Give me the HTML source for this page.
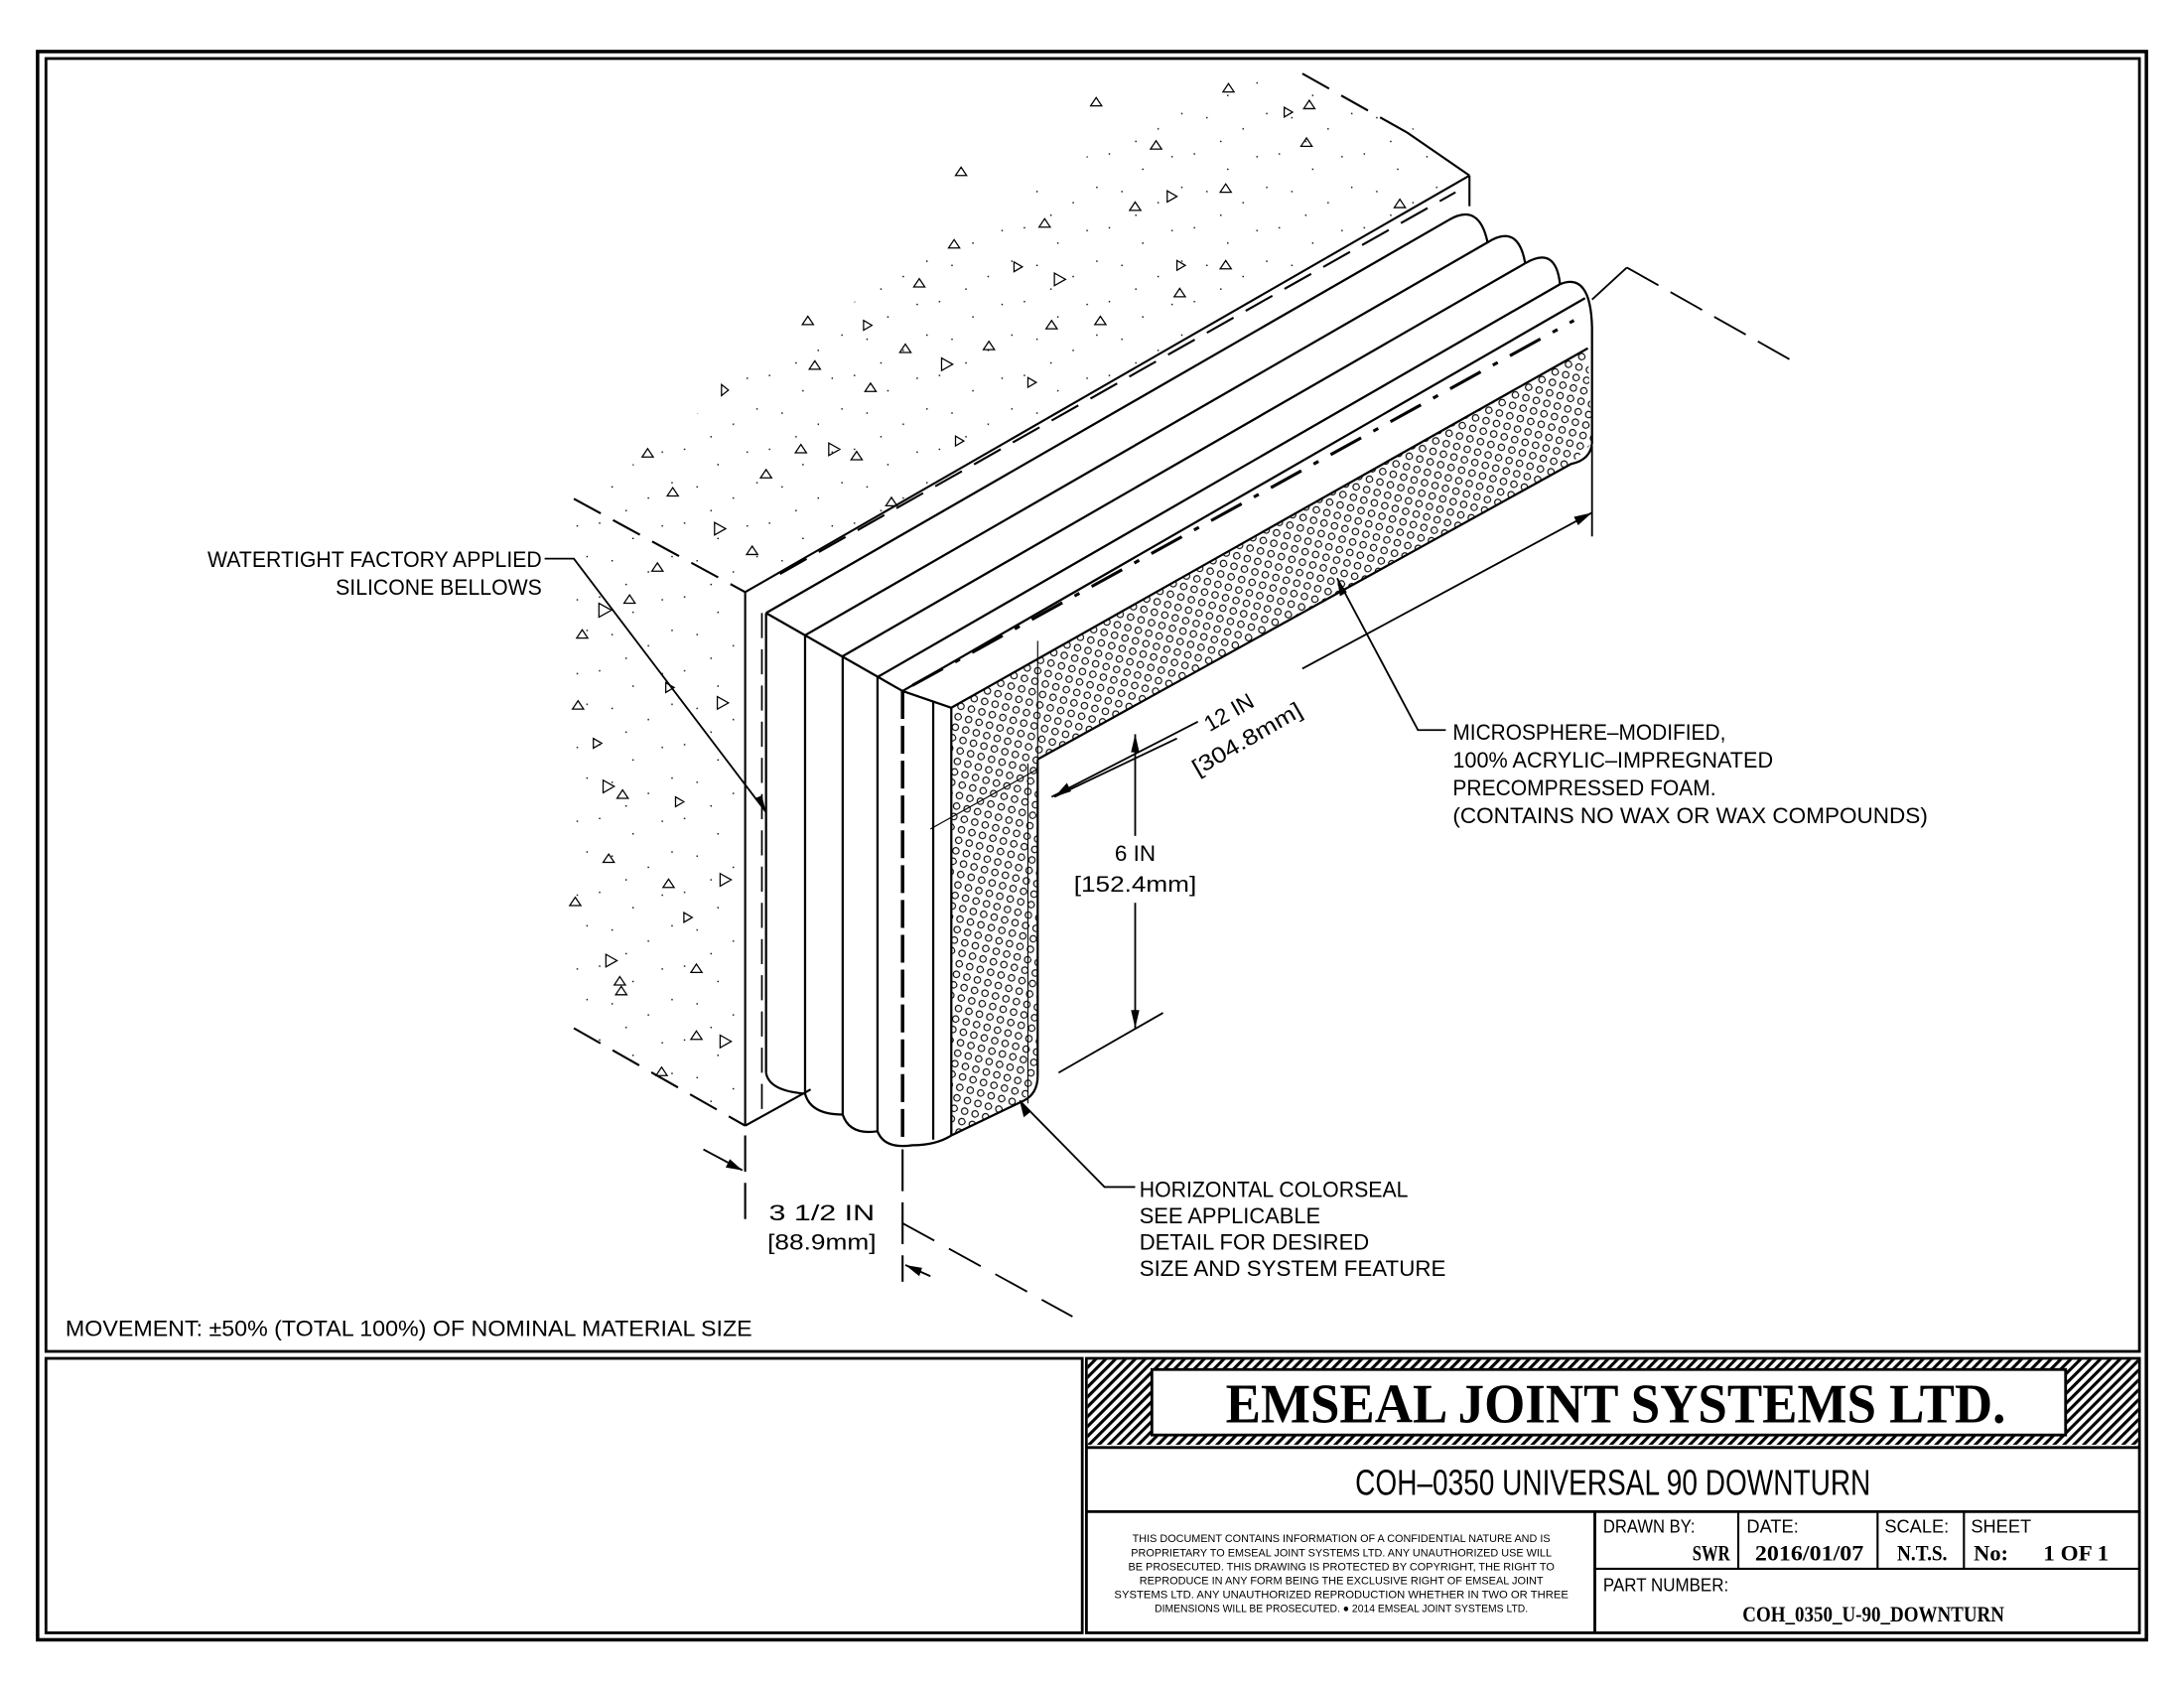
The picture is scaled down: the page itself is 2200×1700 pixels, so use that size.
<!DOCTYPE html>
<html><head><meta charset="utf-8"><style>
html,body{margin:0;padding:0;background:#fff}
svg{display:block}
.t{font-family:"Liberation Sans",sans-serif;font-size:16px;fill:#000}
</style></head><body>
<svg width="2200" height="1700" viewBox="0 0 1568 1211.6" preserveAspectRatio="none" xmlns="http://www.w3.org/2000/svg">
<defs>
<pattern id="foam" width="11" height="11" patternUnits="userSpaceOnUse" patternTransform="rotate(-30)">
<circle cx="3" cy="3" r="2.3" fill="none" stroke="#000" stroke-width="0.8"/>
<circle cx="8.5" cy="8.5" r="2.3" fill="none" stroke="#000" stroke-width="0.8"/>
</pattern>
<pattern id="hatch" width="5" height="5" patternUnits="userSpaceOnUse" patternTransform="rotate(45)">
<rect width="5" height="5" fill="#fff"/><rect width="2.2" height="5" fill="#000"/>
</pattern>
<pattern id="dots" width="61" height="53" patternUnits="userSpaceOnUse">
<rect x="3" y="4" width="1" height="1"/><rect x="27" y="15" width="1" height="1"/>
<rect x="48" y="6" width="1" height="1"/><rect x="12" y="31" width="1" height="1"/>
<rect x="38" y="39" width="1" height="1"/><rect x="55" y="28" width="1" height="1"/>
<rect x="22" y="48" width="1" height="1"/>
</pattern>
</defs>
<rect width="1568" height="1212" fill="#fff"/>
<!-- borders -->
<rect x="27" y="37" width="1514" height="1140" fill="none" stroke="#000" stroke-width="2.5"/>
<rect x="33" y="42" width="1503" height="928" fill="none" stroke="#000" stroke-width="2"/>
<rect x="33" y="975" width="744" height="197" fill="none" stroke="#000" stroke-width="2"/>
<rect x="780" y="975" width="756" height="197" fill="none" stroke="#000" stroke-width="2"/>
<!-- title hatched band -->
<rect x="781" y="976" width="754" height="61" fill="url(#hatch)"/>
<rect x="827" y="983" width="656" height="47" fill="#fff" stroke="#000" stroke-width="2"/>
<text x="880" y="1021" font-family="Liberation Serif,serif" font-weight="bold" font-size="40" textLength="560" lengthAdjust="spacingAndGlyphs">EMSEAL JOINT SYSTEMS LTD.</text>
<line x1="780" y1="1039" x2="1536" y2="1039" stroke="#000" stroke-width="2"/>
<line x1="780" y1="1085" x2="1536" y2="1085" stroke="#000" stroke-width="2"/>
<text x="973" y="1073" font-family="Liberation Sans,sans-serif" font-size="26" textLength="370" lengthAdjust="spacingAndGlyphs">COH–0350 UNIVERSAL 90 DOWNTURN</text>
<line x1="1145" y1="1085" x2="1145" y2="1172" stroke="#000" stroke-width="2"/>
<line x1="1248" y1="1085" x2="1248" y2="1126" stroke="#000" stroke-width="1.5"/>
<line x1="1348" y1="1085" x2="1348" y2="1126" stroke="#000" stroke-width="1.5"/>
<line x1="1410" y1="1085" x2="1410" y2="1126" stroke="#000" stroke-width="1.5"/>
<line x1="1145" y1="1126" x2="1536" y2="1126" stroke="#000" stroke-width="1.5"/>
<g font-family="Liberation Sans,sans-serif" font-size="8" text-anchor="middle">
<text x="963" y="1107" textLength="300" lengthAdjust="spacingAndGlyphs">THIS DOCUMENT CONTAINS INFORMATION OF A CONFIDENTIAL NATURE AND IS</text>
<text x="963" y="1117" textLength="302" lengthAdjust="spacingAndGlyphs">PROPRIETARY TO EMSEAL JOINT SYSTEMS LTD. ANY UNAUTHORIZED USE WILL</text>
<text x="963" y="1127" textLength="306" lengthAdjust="spacingAndGlyphs">BE PROSECUTED. THIS DRAWING IS PROTECTED BY COPYRIGHT, THE RIGHT TO</text>
<text x="963" y="1137" textLength="290" lengthAdjust="spacingAndGlyphs">REPRODUCE IN ANY FORM BEING THE EXCLUSIVE RIGHT OF EMSEAL JOINT</text>
<text x="963" y="1147" textLength="326" lengthAdjust="spacingAndGlyphs">SYSTEMS LTD. ANY UNAUTHORIZED REPRODUCTION WHETHER IN TWO OR THREE</text>
<text x="963" y="1157" textLength="268" lengthAdjust="spacingAndGlyphs">DIMENSIONS WILL BE PROSECUTED. ● 2014 EMSEAL JOINT SYSTEMS LTD.</text>
</g>
<g font-family="Liberation Sans,sans-serif" font-size="13">
<text x="1151" y="1100" textLength="66" lengthAdjust="spacingAndGlyphs">DRAWN BY:</text>
<text x="1254" y="1100">DATE:</text>
<text x="1353" y="1100">SCALE:</text>
<text x="1415" y="1100">SHEET</text>
<text x="1151" y="1142" textLength="90" lengthAdjust="spacingAndGlyphs">PART NUMBER:</text>
</g>
<g font-family="Liberation Serif,serif" font-weight="bold" font-size="16">
<text x="1215" y="1120" textLength="27" lengthAdjust="spacingAndGlyphs">SWR</text>
<text x="1260" y="1120" textLength="78" lengthAdjust="spacingAndGlyphs">2016/01/07</text>
<text x="1362" y="1120" textLength="36" lengthAdjust="spacingAndGlyphs">N.T.S.</text>
<text x="1417" y="1120">No:</text>
<text x="1467" y="1120" textLength="47" lengthAdjust="spacingAndGlyphs">1 OF 1</text>
<text x="1251" y="1164" textLength="188" lengthAdjust="spacingAndGlyphs">COH_0350_U-90_DOWNTURN</text>
</g>

<!-- stipple -->
<polygon points="418,362 535,425 1055,126 1000,80 880,50 560,250" fill="url(#dots)"/>
<polygon points="412,362 535,425 535,808 412,740" fill="url(#dots)"/>
<path fill="none" stroke="#000" stroke-width="0.9" d="
M922,77 l6,3.5 l-6,3.5z M938,99 l4,6 l-8,0z M882,60 l4,6 l-8,0z M830,101 l4,6 l-8,0z M880,132 l4,6 l-8,0z
M838,137 l7,4 l-7,4z M815,145 l4,6 l-8,0z M757,196 l8,4.5 l-8,4.5z M750,157 l4,6 l-8,0z M728,188 l6,3.5 l-6,3.5z
M685,172 l4,6 l-8,0z M676,257 l8,4.5 l-8,4.5z M650,247 l4,6 l-8,0z M625,275 l4,6 l-8,0z M595,318 l8,4.5 l-8,4.5z
M575,319 l4,6 l-8,0z M615,324 l4,6 l-8,0z M640,357 l4,6 l-8,0z M550,337 l4,6 l-8,0z M513,375 l8,4.5 l-8,4.5z
M483,350 l4,6 l-8,0z M465,322 l4,6 l-8,0z M518,276 l5,4 l-5,4z M585,259 l4,6 l-8,0z M540,392 l4,6 l-8,0z
M580,227 l4,6 l-8,0z M710,245 l4,6 l-8,0z M738,271 l6,3.5 l-6,3.5z M686,313 l6,3.5 l-6,3.5z M790,227 l4,6 l-8,0z
M847,207 l4,6 l-8,0z M880,187 l4,6 l-8,0z M1005,143 l4,6 l-8,0z M845,187 l6,3.5 l-6,3.5z M755,230 l4,6 l-8,0z
M660,200 l4,6 l-8,0z M620,230 l6,3.5 l-6,3.5z M690,120 l4,6 l-8,0z M787,70 l4,6 l-8,0z M940,72 l4,6 l-8,0z
M430,433 l9,5 l-9,5z M418,452 l4,6 l-8,0z M452,427 l4,6 l-8,0z M472,404 l4,6 l-8,0z M478,490 l6,3.5 l-6,3.5z
M515,500 l8,4.5 l-8,4.5z M415,503 l4,6 l-8,0z M426,530 l6,3.5 l-6,3.5z M433,560 l8,4.5 l-8,4.5z M447,567 l4,6 l-8,0z
M485,572 l6,3.5 l-6,3.5z M437,613 l4,6 l-8,0z M517,627 l8,4.5 l-8,4.5z M480,631 l4,6 l-8,0z M491,655 l6,3.5 l-6,3.5z
M413,644 l4,6 l-8,0z M435,685 l8,4.5 l-8,4.5z M445,701 l4,6 l-8,0z M500,692 l4,6 l-8,0z M446,708 l4,6 l-8,0z
M517,743 l8,4.5 l-8,4.5z M475,766 l4,6 l-8,0z M500,740 l4,6 l-8,0z"/>

<!-- concrete block lines -->
<g stroke="#000" fill="none" stroke-width="1.5">
<line x1="535" y1="425" x2="535" y2="808"/>
<line x1="535" y1="425" x2="1055" y2="126"/>
<line x1="1055" y1="126" x2="1055" y2="148"/>
<line x1="1055" y1="126" x2="1010" y2="95"/>
<line x1="1010" y1="95" x2="930" y2="50" stroke-dasharray="22,10"/>
<line x1="412" y1="358" x2="535" y2="425" stroke-dasharray="22,10"/>
<line x1="412" y1="738" x2="535" y2="808" stroke-dasharray="22,10"/>
<line x1="535" y1="808" x2="582" y2="782"/>
<line x1="560" y1="412" x2="1045" y2="138" stroke-dasharray="22,10"/>
<line x1="535" y1="815" x2="535" y2="880" stroke-dasharray="26,8"/>
<line x1="648" y1="825" x2="648" y2="920" stroke-dasharray="30,8"/>
</g>

<!-- foam fill -->
<polygon points="683,508 1140,250 1143,318 1128,333 745,545 745,772 735,790 683,815" fill="url(#foam)"/>

<!-- bellows -->
<g stroke="#000" fill="none" stroke-width="1.6">
<line x1="550" y1="440" x2="1040" y2="158"/>
<line x1="578" y1="456" x2="1068" y2="174"/>
<line x1="605" y1="471" x2="1095" y2="189"/>
<line x1="630" y1="486" x2="1120" y2="204"/>
<line x1="648" y1="496" x2="1138" y2="214"/>
<line x1="550" y1="440" x2="648" y2="496"/>
<line x1="648" y1="496" x2="683" y2="508"/>
<line x1="683" y1="508" x2="1140" y2="250"/>
<path d="M1040,158 Q1062,145 1068,174"/>
<path d="M1068,174 Q1090,160 1095,189"/>
<path d="M1095,189 Q1117,176 1120,204"/>
<path d="M1120,204 Q1142,195 1143,235 L1143,318 Q1142,330 1128,333 L745,545"/>
<line x1="550" y1="440" x2="550" y2="770"/>
<line x1="578" y1="456" x2="578" y2="785"/>
<line x1="605" y1="471" x2="605" y2="800"/>
<line x1="630" y1="486" x2="630" y2="812"/>
<line x1="648" y1="496" x2="648" y2="818" stroke-width="2.5" stroke-dasharray="20,5"/>
<line x1="670" y1="503" x2="670" y2="818"/>
<line x1="683" y1="508" x2="683" y2="815"/>
<line x1="745" y1="545" x2="745" y2="772"/>
<line x1="738" y1="548" x2="738" y2="792" stroke-width="0.8"/>
<path d="M550,770 Q552,783 578,785"/>
<path d="M578,785 Q582,800 605,800"/>
<path d="M605,800 Q610,815 630,812"/>
<path d="M630,812 Q635,825 655,822 Q672,822 683,815"/>
<path d="M683,815 L735,790 Q745,785 745,772"/>
<line x1="655" y1="492" x2="1130" y2="230" stroke-width="2.2" stroke-dasharray="25,10,4,10"/>
<line x1="745" y1="460" x2="745" y2="545" stroke-width="0.8"/>
<line x1="668" y1="595" x2="745" y2="552" stroke-width="0.8"/>
<line x1="547" y1="440" x2="547" y2="800" stroke-dasharray="18,8" stroke-width="1.2"/>
</g>

<!-- dimension & leaders -->
<g stroke="#000" fill="none" stroke-width="1.3">
<line x1="1143" y1="320" x2="1143" y2="385"/>
<line x1="755" y1="572" x2="860" y2="518"/>
<line x1="935" y1="480" x2="1143" y2="368"/>
<line x1="1143" y1="215" x2="1168" y2="192"/>
<line x1="1168" y1="192" x2="1285" y2="258" stroke-dasharray="26,10"/>
<line x1="815" y1="527" x2="815" y2="600"/>
<line x1="815" y1="648" x2="815" y2="738"/>
<line x1="757" y1="572" x2="845" y2="530"/>
<line x1="760" y1="770" x2="835" y2="727"/>
<polyline points="391,401 412,401 550,583"/>
<polyline points="1038,524 1018,524 960,415"/>
<polyline points="815,852 793,852 732,790"/>
<line x1="505" y1="825" x2="533" y2="840"/>
<line x1="650" y1="908" x2="668" y2="916"/>
<line x1="648" y1="878" x2="770" y2="945" stroke-dasharray="26,12"/>
</g>
<g fill="#000">
<polygon points="815,527 812,540 818,540"/>
<polygon points="815,738 812,725 818,725"/>
<polygon points="1143,368 1130,371 1133,377"/>
<polygon points="757,572 769,568 766,562"/>
<polygon points="550,583 542,573 547,571"/>
<polygon points="960,415 962,428 967,425"/>
<polygon points="732,790 735,802 740,798"/>
<polygon points="533,840 521,838 524,832"/>
<polygon points="650,908 662,910 660,916"/>
</g>

<!-- labels -->
<g class="t">
<text x="389" y="407" text-anchor="end" textLength="240" lengthAdjust="spacingAndGlyphs">WATERTIGHT FACTORY APPLIED</text>
<text x="389" y="427" text-anchor="end" textLength="148" lengthAdjust="spacingAndGlyphs">SILICONE BELLOWS</text>
<text x="1043" y="531" textLength="196" lengthAdjust="spacingAndGlyphs">MICROSPHERE–MODIFIED,</text>
<text x="1043" y="551" textLength="230" lengthAdjust="spacingAndGlyphs">100% ACRYLIC–IMPREGNATED</text>
<text x="1043" y="571" textLength="189" lengthAdjust="spacingAndGlyphs">PRECOMPRESSED FOAM.</text>
<text x="1043" y="591" textLength="341" lengthAdjust="spacingAndGlyphs">(CONTAINS NO WAX OR WAX COMPOUNDS)</text>
<text x="815" y="618" text-anchor="middle">6 IN</text>
<text x="815" y="640" text-anchor="middle" textLength="88" lengthAdjust="spacingAndGlyphs">[152.4mm]</text>
<text x="590" y="876" text-anchor="middle" textLength="76" lengthAdjust="spacingAndGlyphs">3 1/2 IN</text>
<text x="590" y="897" text-anchor="middle" textLength="78" lengthAdjust="spacingAndGlyphs">[88.9mm]</text>
<text x="818" y="859" textLength="193" lengthAdjust="spacingAndGlyphs">HORIZONTAL COLORSEAL</text>
<text x="818" y="878" textLength="130" lengthAdjust="spacingAndGlyphs">SEE APPLICABLE</text>
<text x="818" y="897" textLength="165" lengthAdjust="spacingAndGlyphs">DETAIL FOR DESIRED</text>
<text x="818" y="916" textLength="220" lengthAdjust="spacingAndGlyphs">SIZE AND SYSTEM FEATURE</text>
<text x="47" y="959" textLength="493" lengthAdjust="spacingAndGlyphs">MOVEMENT: ±50% (TOTAL 100%) OF NOMINAL MATERIAL SIZE</text>
<text transform="translate(885,516) rotate(-30)" text-anchor="middle">12 IN</text>
<text transform="translate(898,535) rotate(-30)" text-anchor="middle" textLength="88" lengthAdjust="spacingAndGlyphs">[304.8mm]</text>
</g>
</svg>
</body></html>
